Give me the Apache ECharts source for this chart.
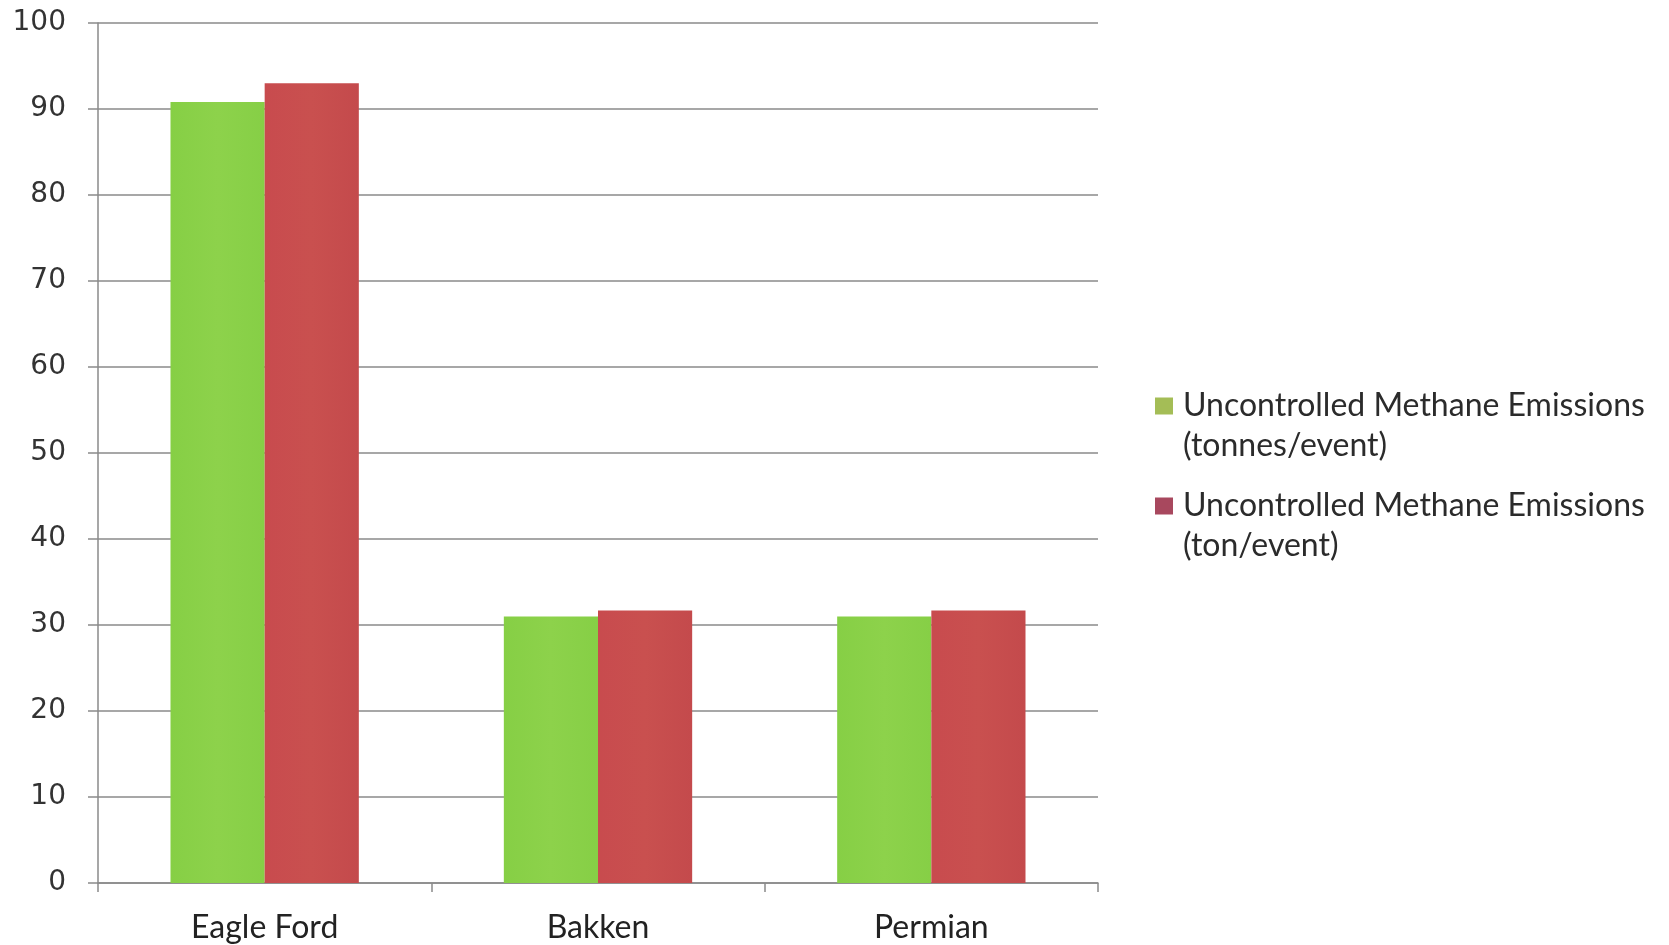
<!DOCTYPE html>
<html>
<head>
<meta charset="utf-8">
<title>Uncontrolled Methane Emissions</title>
<script src="https://cdn.jsdelivr.net/npm/echarts@6/dist/echarts.min.js"></script>
<style>
  html, body { margin: 0; padding: 0; background: #ffffff; }
  #chart { width: 1669px; height: 945px; }
</style>
</head>
<body>
<div id="chart"></div>
<script>
// Basins on the category axis
const basins = ['Eagle Ford', 'Bakken', 'Permian'];

// Emissions per event, two unit conventions
const tonnesPerEvent = [90.8, 31, 31];
const tonPerEvent = [93, 31.7, 31.7];

// Series names shown in the legend
const seriesNames = [
  'Uncontrolled Methane Emissions (tonnes/event)',
  'Uncontrolled Methane Emissions (ton/event)'
];

// Value axis ticks
const yMin = 0;
const yMax = 100;
const yStep = 10;

const axisGray = '#8a8a8a';

const chart = echarts.init(document.getElementById('chart'), null, { renderer: 'canvas' });

chart.setOption({
  backgroundColor: '#ffffff',
  animation: false,
  grid: { left: 98, right: 571, top: 23, bottom: 62 },
  legend: {
    orient: 'vertical',
    left: 1155,
    top: 346,
    padding: 0,
    itemWidth: 18,
    itemHeight: 17,
    itemGap: -20,
    icon: 'rect',
    selectedMode: false,
    // a blank first line keeps the swatch level with the first text line
    formatter: name => '\n' + name.replace(' (', '\n('),
    textStyle: {
      fontFamily: 'Lato',
      fontSize: 32,
      lineHeight: 40,
      color: '#2b2b2b',
      padding: [0, 0, 0, 5]
    },
    data: [
      { name: seriesNames[0], itemStyle: { color: '#a4bd56' } },
      { name: seriesNames[1], itemStyle: { color: '#a8485e' } }
    ]
  },
  xAxis: {
    type: 'category',
    data: basins,
    boundaryGap: true,
    axisLine: { show: true, lineStyle: { color: axisGray, width: 1.5 } },
    axisTick: { show: true, length: 9, alignWithLabel: false, lineStyle: { color: axisGray, width: 1.5 } },
    axisLabel: {
      margin: 29,
      fontFamily: 'Lato',
      fontSize: 32,
      color: '#222222'
    },
    splitLine: { show: false }
  },
  yAxis: {
    type: 'value',
    min: yMin,
    max: yMax,
    interval: yStep,
    axisLine: { show: true, lineStyle: { color: axisGray, width: 1.5 } },
    axisTick: { show: true, length: 10, lineStyle: { color: axisGray, width: 1.5 } },
    axisLabel: {
      margin: 32,
      fontFamily: 'DejaVu Sans',
      fontSize: 28,
      color: '#333333'
    },
    splitLine: { show: true, lineStyle: { color: axisGray, width: 1.5 } }
  },
  series: [
    {
      name: seriesNames[0],
      type: 'bar',
      data: tonnesPerEvent,
      barGap: '0%',
      barCategoryGap: '43.5%',
      itemStyle: {
        color: new echarts.graphic.LinearGradient(0, 0, 1, 0, [
          { offset: 0, color: '#86cf45' },
          { offset: 0.5, color: '#8dd24b' },
          { offset: 1, color: '#86cf46' }
        ])
      }
    },
    {
      name: seriesNames[1],
      type: 'bar',
      data: tonPerEvent,
      barGap: '0%',
      barCategoryGap: '43.5%',
      itemStyle: {
        color: new echarts.graphic.LinearGradient(0, 0, 1, 0, [
          { offset: 0, color: '#c84b4e' },
          { offset: 0.5, color: '#c9504f' },
          { offset: 1, color: '#c44a4c' }
        ])
      }
    }
  ]
});
</script>
</body>
</html>
